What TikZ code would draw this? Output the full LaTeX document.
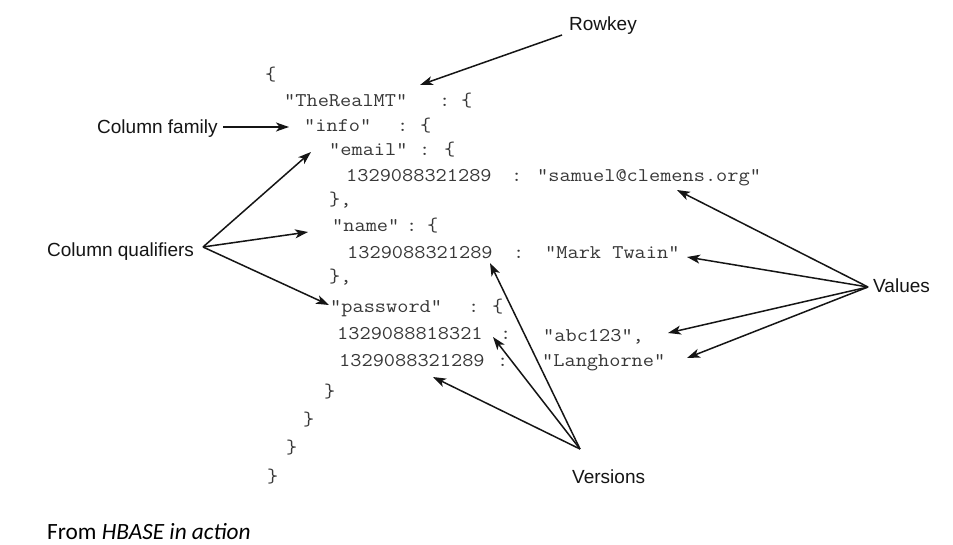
\documentclass[tikz,border=0pt]{standalone}
\usepackage{fontspec}
\setmainfont{Liberation Sans}
\newfontfamily\codefont{Latin Modern Mono}[FakeStretch=1.12]
\newfontfamily\notefont{Carlito}
\usetikzlibrary{arrows.meta}
\definecolor{codecol}{HTML}{383838}
\definecolor{labelcol}{HTML}{151515}
\begin{document}
\begin{tikzpicture}[x=1pt,y=-1pt,
  code/.style={font=\codefont\fontsize{19.4}{19.4}\selectfont, anchor=base west, inner sep=0pt, text=codecol},
  lbl/.style={font=\fontsize{19}{19}\selectfont, anchor=base west, inner sep=0pt, text=labelcol},
  pointer/.style={draw=labelcol, line width=1.5pt, -{Stealth[length=13pt,width=9pt,inset=3.5pt]}}]
\useasboundingbox[fill=white] (0,0) rectangle (953,544);

% ---- JSON-like row listing ----
\node[code] (open0) at (265,80) {\{};
\node[code] (rowkey) at (284,106) {"TheRealMT"};
\node[code] (rkcolon) at (439,106) {:};
\node[code] (rkopen) at (461,106) {\{};
\node[code] (info) at (304,131) {"info"};
\node[code] (infocolon) at (397,131) {:};
\node[code] (infoopen) at (420,131) {\{};
\node[code] (email) at (329,155) {"email"};
\node[code] (emailcolon) at (419,155) {:};
\node[code] (emailopen) at (444,155) {\{};
\node[code] (ts1) at (346,181) {1329088321289};
\node[code] (ts1colon) at (511,181) {:};
\node[code] (val1) at (537,181) {"samuel@clemens.org"};
\node[code] (close1) at (329,205) {\},};
\node[code] (name) at (332,231) {"name"};
\node[code] (namecolon) at (406,231) {:};
\node[code] (nameopen) at (427,231) {\{};
\node[code] (ts2) at (347,258) {1329088321289};
\node[code] (ts2colon) at (513,258) {:};
\node[code] (val2) at (545,258) {"Mark Twain"};
\node[code] (close2) at (329,282) {\},};
\node[code] (pw) at (330,312) {"password"};
\node[code] (pwcolon) at (468,312) {:};
\node[code] (pwopen) at (492,312) {\{};
\node[code] (ts3) at (337,339) {1329088818321};
\node[code] (ts3colon) at (500,339) {:};
\node[code] (val3) at (543,341) {"abc123",};
\node[code] (ts4) at (339,366) {1329088321289};
\node[code] (ts4colon) at (497,366) {:};
\node[code] (val4) at (542,366) {"Langhorne"};
\node[code] (close3) at (324,397) {\}};
\node[code] (close4) at (303,425) {\}};
\node[code] (close5) at (286,453) {\}};
\node[code] (close6) at (267,482) {\}};

% ---- callout labels ----
\node[lbl] (lrowkey) at (569,30) {Rowkey};
\node[lbl] (lfamily) at (97,133) {Column family};
\node[lbl] (lqual) at (47,256) {Column qualifiers};
\node[lbl] (lvalues) at (873,292) {Values};
\node[lbl] (lversions) at (572,483) {Versions};

\node[font=\notefont\fontsize{23.3}{23.3}\selectfont, anchor=base west, inner sep=0pt, text=black] (source) at (47,539) {From \textit{HBASE in action}};

% ---- arrow start and end points ----
\coordinate (rkfrom) at (562,35);
\coordinate (rkto) at (420,85);
\coordinate (famfrom) at (223,127);
\coordinate (famto) at (289,127);
\coordinate (qfrom) at (203,247);
\coordinate (qto1) at (311,152);
\coordinate (qto2) at (308,232);
\coordinate (qto3) at (329,305);
\coordinate (vfrom) at (868,287);
\coordinate (vto1) at (677,190);
\coordinate (vto2) at (687,257);
\coordinate (vto3) at (668,333);
\coordinate (vto4) at (687,358);
\coordinate (verfrom) at (580,449);
\coordinate (verto1) at (433,377);
\coordinate (verto2) at (493,337);
\coordinate (verto3) at (490,263);

% ---- connectors ----
\draw[pointer] (rkfrom) -- (rkto);
\draw[pointer] (famfrom) -- (famto);
\draw[pointer] (qfrom) -- (qto1);
\draw[pointer] (qfrom) -- (qto2);
\draw[pointer] (qfrom) -- (qto3);
\draw[pointer] (vfrom) -- (vto1);
\draw[pointer] (vfrom) -- (vto2);
\draw[pointer] (vfrom) -- (vto3);
\draw[pointer] (vfrom) -- (vto4);
\draw[pointer] (verfrom) -- (verto1);
\draw[pointer] (verfrom) -- (verto2);
\draw[pointer] (verfrom) -- (verto3);
\end{tikzpicture}
\end{document}
